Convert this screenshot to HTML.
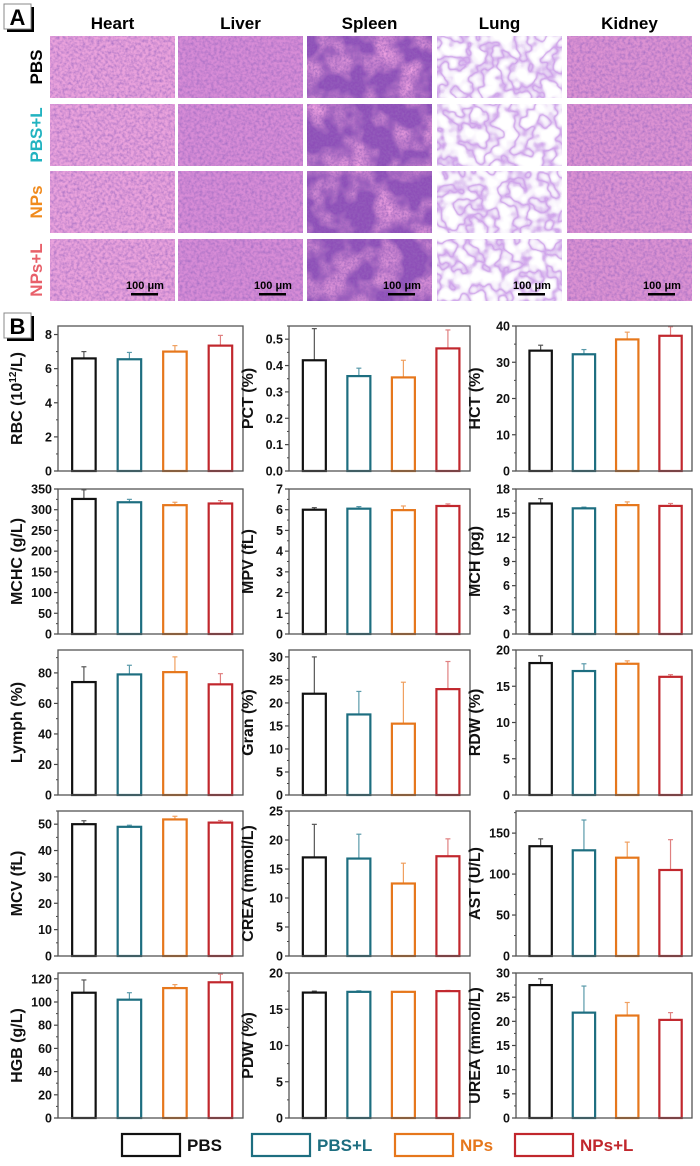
<!DOCTYPE html>
<html><head><meta charset="utf-8"><style>
html,body{margin:0;padding:0;background:#fff;}
body{width:700px;height:1161px;overflow:hidden;font-family:"Liberation Sans",Arial,sans-serif;}
svg text{font-family:"Liberation Sans",Arial,sans-serif;font-weight:bold;}
</style></head><body>
<svg id="fig" width="700" height="1161" viewBox="0 0 700 1161" xmlns="http://www.w3.org/2000/svg">
<defs>
<filter id="tex" x="0" y="0" width="100%" height="100%">
<feTurbulence type="fractalNoise" baseFrequency="0.35" numOctaves="2" seed="3" result="n"/>
<feColorMatrix in="n" type="matrix" values="0 0 0 0 0.35  0 0 0 0 0.15  0 0 0 0 0.55  0 0 0 1.6 -0.55" result="d"/>
<feComposite in="d" in2="SourceGraphic" operator="atop"/>
</filter>
<filter id="spleenf" x="0" y="0" width="100%" height="100%">
<feTurbulence type="fractalNoise" baseFrequency="0.04" numOctaves="3" seed="11" result="n"/>
<feColorMatrix in="n" type="matrix" values="0 0 0 0 0.85  0 0 0 0 0.35  0 0 0 0 0.75  0 0 0 2.2 -0.9" result="d"/>
<feComposite in="d" in2="SourceGraphic" operator="atop" result="c"/>
<feTurbulence type="fractalNoise" baseFrequency="0.45" numOctaves="2" seed="4" result="n2"/>
<feColorMatrix in="n2" type="matrix" values="0 0 0 0 0.3  0 0 0 0 0.12  0 0 0 0 0.5  0 0 0 1.6 -0.55" result="d2"/>
<feComposite in="d2" in2="c" operator="atop"/>
</filter>
<filter id="lungf" x="0" y="0" width="100%" height="100%">
<feTurbulence type="fractalNoise" baseFrequency="0.07" numOctaves="2" seed="7" result="n"/>
<feColorMatrix in="n" type="matrix" values="0 0 0 0 0.62  0 0 0 0 0.36  0 0 0 0 0.82  1 0 0 0 0" result="d"/>
<feComponentTransfer in="d" result="b"><feFuncA type="table" tableValues="0 0 0 0 0.2 1 0.3 0 0 0"/></feComponentTransfer>
<feComposite in="b" in2="SourceGraphic" operator="atop"/>
</filter>
</defs>
<g id="panelA"></g>
<g id="panelB"></g>
<g id="legend"></g>
</svg>
<script>
const groups = ["PBS","PBS+L","NPs","NPs+L"];
const metricNames = ["RBC","PCT","HCT","MCHC","MPV","MCH","Lymph","Gran","RDW","MCV","CREA","AST","HGB","PDW","UREA"];
const axisTitles = ["RBC (10|12|/L)","PCT (%)","HCT (%)","MCHC (g/L)","MPV (fL)","MCH (pg)","Lymph (%)","Gran (%)","RDW (%)","MCV (fL)","CREA (mmol/L)","AST (U/L)","HGB (g/L)","PDW (%)","UREA (mmol/L)"];
const meanValues = [
 [6.6,6.55,7.0,7.35],[0.42,0.36,0.355,0.465],[33.2,32.2,36.3,37.3],
 [326,318,311,315],[6.0,6.05,5.98,6.18],[16.2,15.6,16.0,15.9],
 [74,79,80.5,72.5],[22,17.5,15.5,23],[18.2,17.1,18.1,16.3],
 [50,49,51.8,50.6],[17,16.8,12.5,17.2],[134,129,120,105],
 [108,102,112,117],[17.3,17.4,17.4,17.5],[27.5,21.8,21.2,20.3]];
const errValues = [
 [0.4,0.4,0.35,0.6],[0.12,0.03,0.065,0.07],[1.5,1.3,2,2.5],
 [22,7,7,7],[0.1,0.1,0.2,0.1],[0.6,0.15,0.4,0.3],
 [10,6,10,7],[8,5,9,6],[1,1,0.4,0.3],
 [1.3,0.6,1.2,0.8],[5.7,4.2,3.5,3],[9,37,19,37],
 [11,6,3,7],[0.2,0.15,0.05,0.1],[1.3,5.5,2.7,1.5]];
const yMaxValues = [8.5,0.55,40,350,7,18,95,31.5,20,55,25,177,125,20,30];
const tickSteps = [2,0.1,10,50,1,3,20,5,5,10,5,50,20,5,5];

const NS="http://www.w3.org/2000/svg";
function mk(tag,attrs,parent){const e=document.createElementNS(NS,tag);for(const k in attrs)e.setAttribute(k,attrs[k]);if(parent)parent.appendChild(e);return e;}
const strokeCols=["#111111","#1d6e80","#e6771c","#c1272d"];
const errCols=["#555555","#5a9aaa","#f0a060","#e08080"];

// Panel A
const pA=document.getElementById('panelA');
const lab=mk('g',{},pA);


mk('rect',{x:7,y:7,width:27,height:25,fill:'#000'},lab);
mk('rect',{x:4,y:4,width:27,height:25,fill:'#fff',stroke:'#888','stroke-width':1},lab);
const ta=mk('text',{x:17.5,y:25,'font-size':22,'text-anchor':'middle',fill:'#000'},lab);ta.textContent='A';
const organs=["Heart","Liver","Spleen","Lung","Kidney"];
const colX=[50,178,307,437,567], imgW=125;
const rowY=[36,104,171,239], imgH=62;
const organCols=["#eaa2dc","#d78cd6","#8e50b8","#ffffff","#dc92d2"];
const organFilters=['url(#tex)','url(#tex)','url(#spleenf)','url(#lungf)','url(#tex)'];
const rowLabCols=["#000000","#22b3c0","#f08a1c","#e8606a"];
organs.forEach((o,i)=>{const t=mk('text',{x:colX[i]+imgW/2,y:29,'font-size':17,'text-anchor':'middle',fill:'#000'},pA);t.textContent=o;
 
 });
groups.forEach((g,r)=>{
 const t=mk('text',{x:0,y:0,'font-size':17,'text-anchor':'middle',fill:rowLabCols[r],transform:`translate(42,${rowY[r]+imgH/2}) rotate(-90)`},pA);t.textContent=g;
 
 
 organs.forEach((o,c)=>{
  const im=mk('rect',{x:colX[c],y:rowY[r],width:imgW,height:imgH,fill:organCols[c],filter:organFilters[c]},pA);
  
  
  if(r===3){
   const s=mk('text',{x:colX[c]+imgW-30,y:rowY[r]+imgH-12,'font-size':11,'text-anchor':'middle',fill:'#000'},pA);s.textContent='100 μm';
   
   
   const b=mk('rect',{x:colX[c]+imgW-44,y:rowY[r]+imgH-8,width:27,height:2.5,fill:'#000'},pA);
   
   
  }
 });
});

// Panel B
const pB=document.getElementById('panelB');
const labB=mk('g',{},pB);


mk('rect',{x:7,y:316,width:27,height:25,fill:'#000'},labB);
mk('rect',{x:4,y:313,width:27,height:25,fill:'#fff',stroke:'#888','stroke-width':1},labB);
const tb=mk('text',{x:17.5,y:334,'font-size':22,'text-anchor':'middle',fill:'#000'},labB);tb.textContent='B';
const plotL=[58,289,516], plotR=[243,470,692], plotT=[326,489,650,811,973], plotH=145;
metricNames.forEach((m,idx)=>{
 const col=idx%3,row=Math.floor(idx/3);
 const L=plotL[col],R=plotR[col],T=plotT[row],B=T+plotH,W=R-L;
 const ymax=yMaxValues[idx];
 const y=v=>B-(v/ymax)*plotH;
 const g=mk('g',{},pB);
 
 
 const st=tickSteps[idx];
 for(let k=0;k*st<=ymax+1e-9;k++){const v=+(k*st).toFixed(4);const yy=y(v);
  mk('line',{x1:L-4,x2:L,y1:yy,y2:yy,stroke:'#444','stroke-width':1.2},g);
  const my=y(v+st/2); if(v+st/2<=ymax) mk('line',{x1:L-2,x2:L,y1:my,y2:my,stroke:'#444','stroke-width':1},g);
  const t=mk('text',{x:L-6,y:yy+4.5,'font-size':12.5,'text-anchor':'end',fill:'#111'},g);
  t.textContent=(st<1?v.toFixed(1):String(v));
  
  
 }
 groups.forEach((gr,i)=>{
  const cx=L+W*(0.14+i*0.246), bw=W*0.127;
  const v=meanValues[idx][i], e=errValues[idx][i];
  const el=mk('line',{x1:cx,x2:cx,y1:y(v),y2:y(v+e),stroke:errCols[i],'stroke-width':1.2},g);
  
  
  mk('line',{x1:cx-2.5,x2:cx+2.5,y1:y(v+e),y2:y(v+e),stroke:errCols[i],'stroke-width':1.2},g);
  const b=mk('rect',{x:cx-bw/2,y:y(v),width:bw,height:B-y(v),fill:'none',stroke:strokeCols[i],'stroke-width':2.2},g);
  
  
 });
 const fr=mk('rect',{x:L,y:T,width:W,height:plotH,fill:'none',stroke:'#555','stroke-width':1.3},g);
 
 
 const parts=axisTitles[idx].split('|');
 const at=mk('text',{x:0,y:0,'font-size':16,'text-anchor':'middle',fill:'#111',transform:`translate(${L-36},${T+plotH/2}) rotate(-90)`},g);
 
 
 if(parts.length===1){at.textContent=parts[0];}
 else{const a=mk('tspan',{},at);a.textContent=parts[0];const s=mk('tspan',{'font-size':10,dy:-6},at);s.textContent=parts[1];const c=mk('tspan',{dy:6},at);c.textContent=parts[2];}
});

// legend
const lg=document.getElementById('legend');
const lx=[122,252,395,515];
groups.forEach((gr,i)=>{
 const e=mk('g',{},lg);
 
 
 mk('rect',{x:lx[i],y:1134,width:58,height:22,fill:'none',stroke:strokeCols[i],'stroke-width':2.2},e);
 const t=mk('text',{x:lx[i]+65,y:1151,'font-size':17,fill:i===0?'#111':strokeCols[i]},e);t.textContent=gr;
});
</script>
</body></html>
